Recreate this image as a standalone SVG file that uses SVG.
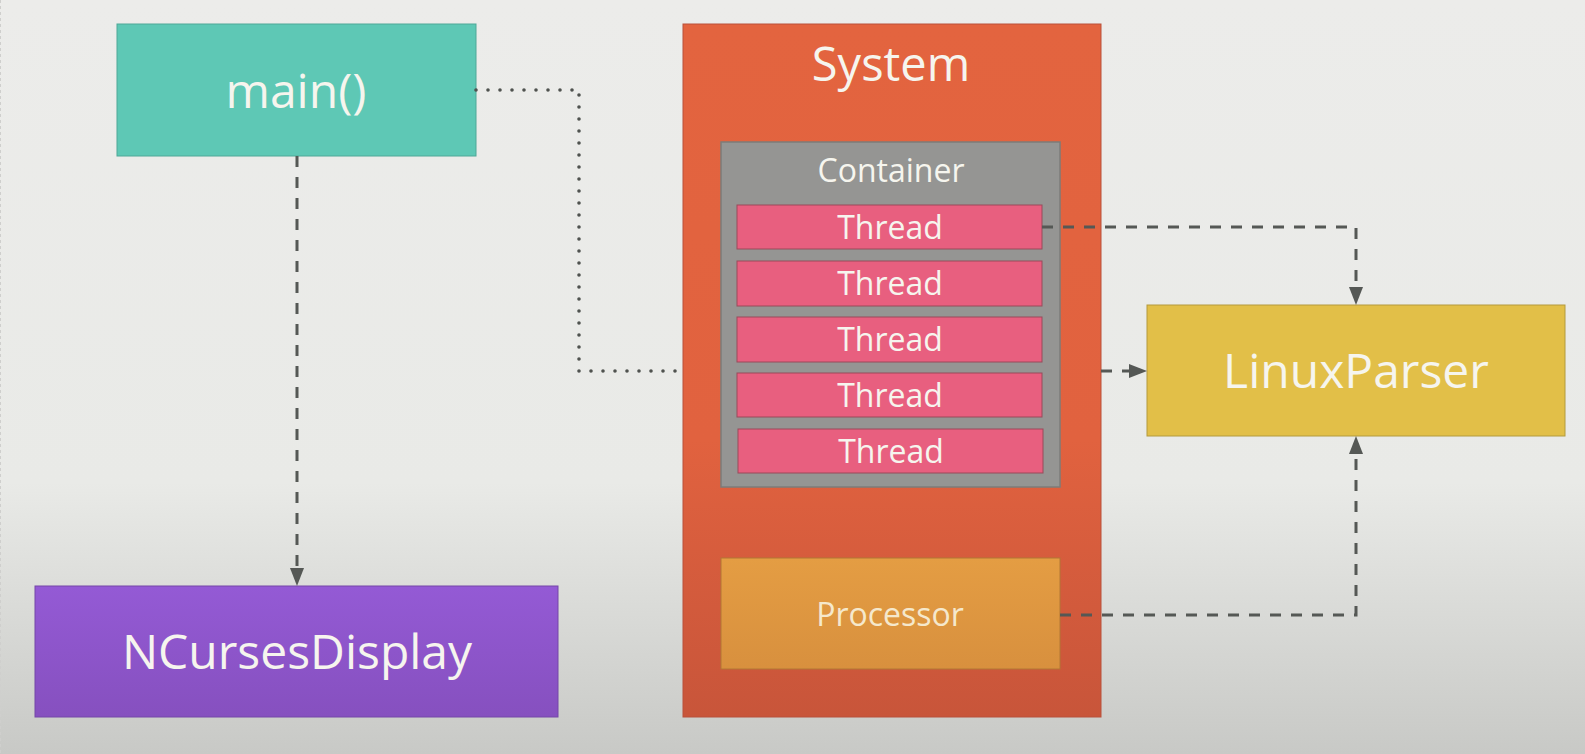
<svg xmlns="http://www.w3.org/2000/svg" width="1585" height="754" viewBox="0 0 1585 754">
  <defs>
    <linearGradient id="bg" x1="0" y1="0" x2="0" y2="1">
      <stop offset="0" stop-color="#ececea"/>
      <stop offset="0.64" stop-color="#e9eae7"/>
      <stop offset="1" stop-color="#c8c9c6"/>
    </linearGradient>
    <linearGradient id="sysg" x1="0" y1="0" x2="0" y2="1">
      <stop offset="0" stop-color="#e3643f"/>
      <stop offset="0.6" stop-color="#e1623f"/>
      <stop offset="1" stop-color="#c8553a"/>
    </linearGradient>
    <linearGradient id="procg" x1="0" y1="0" x2="0" y2="1">
      <stop offset="0" stop-color="#e49d43"/>
      <stop offset="1" stop-color="#d8903e"/>
    </linearGradient>
    <linearGradient id="ncg" x1="0" y1="0" x2="0" y2="1">
      <stop offset="0" stop-color="#945ad5"/>
      <stop offset="1" stop-color="#8650bf"/>
    </linearGradient>
    <marker id="arr" markerUnits="userSpaceOnUse" markerWidth="20" markerHeight="16" refX="10" refY="7" orient="auto">
      <path d="M0,0 L18,7 L0,14 z" fill="#555855"/>
    </marker>
    <style>
      text { font-family: "Open Sans", "Liberation Sans", sans-serif; text-anchor: middle; fill: #f6f5ee; }
      .big { font-size: 48px; }
      .mid { font-size: 47px; }
      .small { font-size: 32px; }
      .dash { fill: none; stroke: #555855; stroke-width: 3; stroke-dasharray: 11 10; }
      .dot { fill: none; stroke: #4f524f; stroke-width: 3.6; stroke-linecap: round; stroke-dasharray: 0 12; }
    </style>
  </defs>

  <rect x="0" y="0" width="1585" height="754" fill="url(#bg)"/>
  <line x1="0.5" y1="0" x2="0.5" y2="754" stroke="#cfcfcd" stroke-width="1" stroke-dasharray="3 3"/>

  <g id="main">
    <rect x="117" y="24" width="359" height="132" fill="#5ec8b5" stroke="#4ea897" stroke-width="1"/>
    <text class="big" x="296" y="108">main()</text>
  </g>

  <g id="ncurses">
    <rect x="35" y="586" width="523" height="131" fill="url(#ncg)" stroke="#7447a8" stroke-width="1"/>
    <text class="big" x="297" y="669">NCursesDisplay</text>
  </g>

  <g id="system">
    <rect x="683" y="24" width="418" height="693" fill="url(#sysg)" stroke="#b9513a" stroke-width="1"/>
    <text class="mid" x="891" y="81">System</text>
  </g>

  <g id="container">
    <rect x="721" y="142" width="339" height="345" fill="#959593" stroke="#7c7c7a" stroke-width="1.5"/>
    <text class="small" x="891" y="182">Container</text>
  </g>

  <g id="thread1">
    <rect x="737" y="205" width="305" height="44" fill="#e85f7f" stroke="#9a4a5a" stroke-width="1"/>
    <text class="small" x="890" y="239">Thread</text>
  </g>
  <g id="thread2">
    <rect x="737" y="261" width="305" height="45" fill="#e85f7f" stroke="#9a4a5a" stroke-width="1"/>
    <text class="small" x="890" y="295">Thread</text>
  </g>
  <g id="thread3">
    <rect x="737" y="317" width="305" height="45" fill="#e85f7f" stroke="#9a4a5a" stroke-width="1"/>
    <text class="small" x="890" y="351">Thread</text>
  </g>
  <g id="thread4">
    <rect x="737" y="373" width="305" height="44" fill="#e85f7f" stroke="#9a4a5a" stroke-width="1"/>
    <text class="small" x="890" y="407">Thread</text>
  </g>
  <g id="thread5">
    <rect x="738" y="429" width="305" height="44" fill="#e85f7f" stroke="#9a4a5a" stroke-width="1"/>
    <text class="small" x="891" y="463">Thread</text>
  </g>

  <g id="processor">
    <rect x="721" y="558" width="339" height="111" fill="url(#procg)" stroke="#b27634" stroke-width="1"/>
    <text class="small" x="890" y="626" style="fill:#f5e8cc">Processor</text>
  </g>

  <g id="linuxparser">
    <rect x="1147" y="305" width="418" height="131" fill="#e2bf48" stroke="#b39a3c" stroke-width="1"/>
    <text class="big" x="1356" y="388">LinuxParser</text>
  </g>

  <g id="connectors">
    <path class="dot" d="M476,90 H579 V371 H683"/>
    <path class="dash" d="M297,156 V578" marker-end="url(#arr)"/>
    <path class="dash" d="M1042,227 H1356 V297" marker-end="url(#arr)"/>
    <path class="dash" d="M1101,371 H1139" marker-end="url(#arr)"/>
    <path class="dash" d="M1060,615 H1356 V444" marker-end="url(#arr)"/>
  </g>
</svg>
